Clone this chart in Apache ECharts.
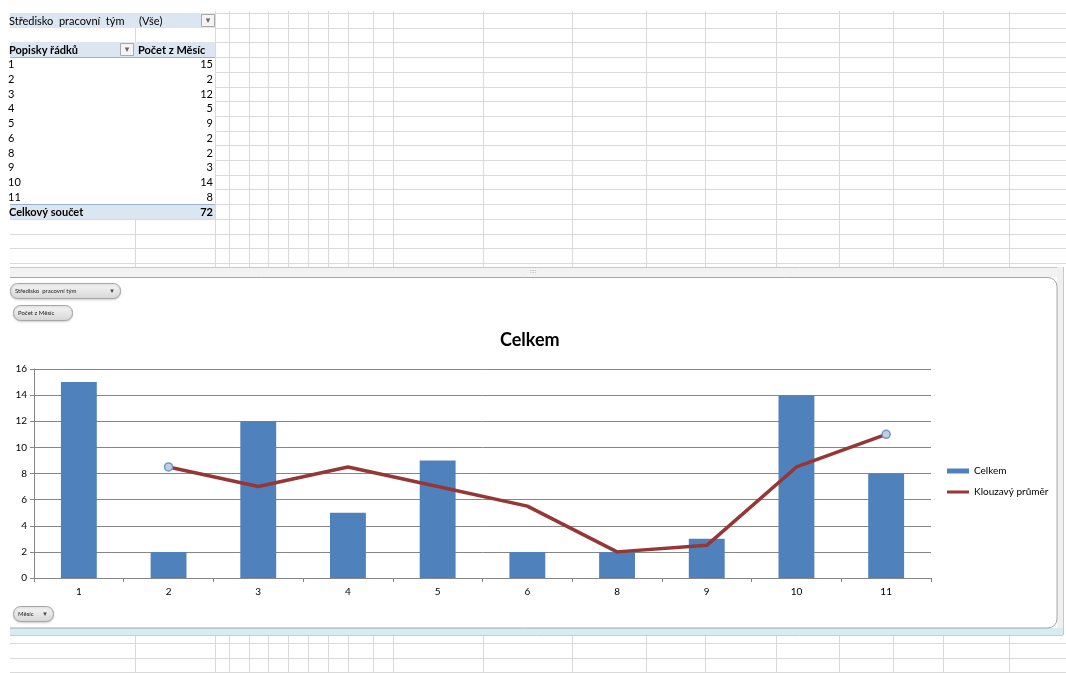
<!DOCTYPE html>
<html><head><meta charset="utf-8">
<script src="https://cdn.jsdelivr.net/npm/echarts@6/dist/echarts.min.js"></script>
<style>html,body{margin:0;padding:0;background:#fff}#c{width:1066px;height:673px}</style>
</head><body><div id="c"></div>
<script>
// ---- data ----
const categories = ['1', '2', '3', '4', '5', '6', '8', '9', '10', '11'];
const celkem = [15, 2, 12, 5, 9, 2, 2, 3, 14, 8];
const klouzavyPrumer = [null, 8.5, 7, 8.5, 7, 5.5, 2, 2.5, 8.5, 11];
const markedPoints = [1, 9]; // indices shown with a marker
const totalValue = 72;
const yMin = 0, yMax = 16, yInterval = 2;

// ---- sheet decoration ----
const FONT = 'Lato, "Liberation Sans", sans-serif';
const gridColor = '#d9d9d9';
const colXs = [215, 229, 249, 268, 288, 308, 328, 348, 373, 393, 483, 572, 646, 705, 776, 839, 893, 943, 1009];
const els = [];
function px(v) { return Math.round(v) + 0.5; }
function hline(x1, x2, y, c, w) { els.push({ type: 'line', silent: true, shape: { x1: x1, y1: px(y), x2: x2, y2: px(y) }, style: { stroke: c || gridColor, lineWidth: w || 1 } }); }
function vline(x, y1, y2, c, w) { els.push({ type: 'line', silent: true, shape: { x1: px(x), y1: y1, x2: px(x), y2: y2 }, style: { stroke: c || gridColor, lineWidth: w || 1 } }); }
function rect(x, y, w, h, fill, stroke, r) { els.push({ type: 'rect', silent: true, shape: { x: x, y: y, width: w, height: h, r: r || 0 }, style: { fill: fill || 'none', stroke: stroke || null, lineWidth: 1 } }); }
function text(t, x, y, opts) {
  opts = opts || {};
  els.push({ type: 'text', silent: true, style: {
    text: t, x: x, y: y,
    font: (opts.bold ? 'bold ' : '') + (opts.size || 11) + 'px ' + (opts.font || FONT),
    fill: opts.color || '#000',
    align: opts.align || 'left', textAlign: opts.align || 'left',
    verticalAlign: 'middle', textVerticalAlign: 'middle'
  } });
}

// sheet rows (top region)
const rowH = 14.7;
const rowYs = [];
for (let i = 0; i < 18; i++) rowYs.push(13 + i * rowH);
rowYs.forEach(function (y, i) {
  hline(215, 1066, y);
  if (i >= 14) hline(10, 215, y);
});
colXs.forEach(function (x) { vline(x, 11, 267); });
vline(135, 28, 42);
vline(135, 219, 267);

// bottom region
[643, 658, 672].forEach(function (y) { hline(10, 1066, y); });
[135].concat(colXs).forEach(function (x) { vline(x, 635, 673); });

// pivot table
const blueBg = '#dce6f1', blueLine = '#95b3d7';
rect(10, 13, 205, 15, blueBg);
rect(201.5, 14.5, 13, 12, '#f4f4f4', '#a9a9a9');
text('▾', 208, 21, { size: 9, color: '#666', align: 'center', font: '"DejaVu Sans"' });
text('Středisko  pracovní  tým', 9, 21, { size: 11 });
text('(Vše)', 139, 21, { size: 11 });

rect(10, 42, 205, 15, blueBg);
hline(10, 215, 57, blueLine);
rect(120.5, 43.5, 13, 12, '#f4f4f4', '#a9a9a9');
text('▾', 127, 50, { size: 9, color: '#666', align: 'center', font: '"DejaVu Sans"' });
text('Popisky řádků', 9, 50, { size: 11, bold: true });
text('Počet z Měsíc', 138, 50, { size: 11, bold: true });

categories.forEach(function (c, i) {
  const cy = 64.8 + i * rowH;
  text(c, 8, cy, { size: 11 });
  text(String(celkem[i]), 213, cy, { size: 11, align: 'right' });
});
rect(10, 204, 205, 15, blueBg);
hline(10, 215, 204, blueLine);
text('Celkový součet', 9, 212, { size: 11, bold: true });
text(String(totalValue), 213, 212, { size: 11, bold: true, align: 'right' });

// chart frame
rect(10, 267, 1053, 10, '#f2f2f2');
hline(10, 1063, 267, '#c8c8c8');
rect(1057, 267, 6, 368, '#f0f0f0');
vline(1063, 267, 635, '#c8c8c8');
rect(10, 628, 1053, 7, '#d6ecf1');
hline(10, 1063, 635, '#b8d3da');
els.push({ type: 'rect', silent: true, shape: { x: -10.5, y: 277.5, width: 1067.5, height: 350.5, r: [0, 9, 9, 0] }, style: { fill: '#fff', stroke: '#a6a6a6', lineWidth: 1 } });
rect(0, 267, 10, 370, '#fff');
text('::::', 533, 271.5, { size: 6, color: '#9a9a9a', align: 'center' });

// pivot field buttons
const btnGrad = { type: 'linear', x: 0, y: 0, x2: 0, y2: 1, colorStops: [{ offset: 0, color: '#f7f7f7' }, { offset: 1, color: '#d6d6d6' }] };
function button(x, y, w, label, arrow) {
  els.push({ type: 'rect', silent: true, shape: { x: x + 0.5, y: y + 0.5, width: w, height: 15, r: 7 }, style: { fill: btnGrad, stroke: '#a7a7a7', lineWidth: 1, shadowBlur: 2, shadowColor: 'rgba(0,0,0,0.15)', shadowOffsetY: 1 } });
  text(label, x + 5, y + 8, { size: 6, color: '#222' });
  if (arrow) text('▾', x + w - 8, y + 8, { size: 7, color: '#444', align: 'center', font: '"DejaVu Sans"' });
}
button(10, 283, 110, 'Středisko  pracovní tým', true);
button(13, 305, 59, 'Počet z Měsíc', false);
button(13, 606, 40, 'Měsíc', true);

// ---- chart ----
const chart = echarts.init(document.getElementById('c'), null, { renderer: 'canvas' });
const axisGray = '#868686';
const lineIcon = 'path://M0 0L0.01 0L0 0.01Z M0 1H22V4H0Z M0 5L0.01 5L0 4.99Z';
chart.setOption({
  animation: false,
  backgroundColor: '#fff',
  graphic: { elements: els },
  title: {
    text: 'Celkem', left: 500, top: 331, padding: 0,
    textStyle: { fontFamily: FONT, fontSize: 18, fontWeight: 'bold', color: '#000' }
  },
  legend: {
    orient: 'vertical', left: 947, top: 465, padding: 0,
    itemWidth: 22, itemHeight: 5, itemGap: 9, itemTextGap: 2,
    textStyle: { fontFamily: FONT, fontSize: 10, color: '#000', lineHeight: 12 },
    data: [{ name: 'Celkem', icon: 'rect' }, { name: 'Klouzavý průměr', icon: lineIcon, itemStyle: { color: '#953735' } }]
  },
  grid: { left: 34, right: 135, top: 369, bottom: 95, containLabel: false },
  xAxis: {
    type: 'category', data: categories,
    axisLine: { show: true, lineStyle: { color: axisGray } },
    axisTick: { show: true, length: 4, lineStyle: { color: axisGray } },
    axisLabel: { fontFamily: FONT, fontSize: 10, color: '#000', margin: 9 },
    splitLine: { show: false }
  },
  yAxis: {
    type: 'value', min: yMin, max: yMax, interval: yInterval,
    axisLine: { show: true, lineStyle: { color: axisGray } },
    axisTick: { show: true, length: 4, lineStyle: { color: axisGray } },
    axisLabel: { fontFamily: FONT, fontSize: 10, color: '#000', margin: 7 },
    splitLine: { show: true, lineStyle: { color: axisGray, width: 1 } }
  },
  series: [
    {
      name: 'Celkem', type: 'bar', data: celkem, barWidth: '40%',
      itemStyle: { color: '#4f81bd' }
    },
    {
      name: 'Klouzavý průměr', type: 'line', symbol: 'none', showSymbol: true,
      data: klouzavyPrumer.map(function (v, i) {
        if (markedPoints.indexOf(i) >= 0) {
          return { value: v, symbol: 'circle', symbolSize: 8, itemStyle: { color: '#c3cedd', borderColor: '#7196c9', borderWidth: 1.5 } };
        }
        return v;
      }),
      lineStyle: { color: '#953735', width: 3.5 },
      itemStyle: { color: '#953735' },
      z: 3
    }
  ]
});
</script>
</body></html>
